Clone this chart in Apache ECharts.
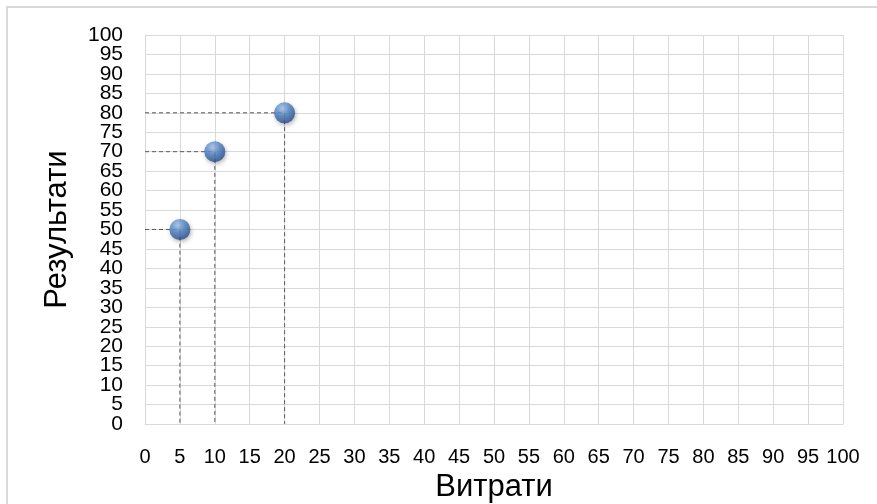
<!DOCTYPE html>
<html><head><meta charset="utf-8">
<script src="https://cdn.jsdelivr.net/npm/echarts@6/dist/echarts.min.js"></script>
<style>html,body{margin:0;padding:0;background:#fff}#c{width:877px;height:504px}</style>
</head><body><div id="c"></div>
<script>
const costs = [5, 10, 20];
const results = [50, 70, 80];
const xName = 'Витрати';
const yName = 'Результати';

const chart = echarts.init(document.getElementById('c'));
const pts = costs.map((x, i) => [x, results[i]]);
const dropSeries = pts.map(p => ({
  type: 'line', data: [[0, p[1]], [p[0], p[1]], [p[0], 0]],
  symbol: 'none', silent: true, z: 2,
  lineStyle: { color: '#595959', width: 1, type: [4, 3] }
}));
const font = 'Liberation Sans';
const yLabel = { fontSize: 21, color: '#000', fontFamily: font, margin: 22, lineHeight: 18 };
chart.setOption({
  animation: false,
  graphic: [{ type: 'rect', shape: { x: 7, y: 7, width: 900, height: 600 },
    style: { fill: 'none', stroke: '#d9d9d9', lineWidth: 2 }, z: -1 }],
  grid: { left: 145, right: 34, top: 35, bottom: 80, outerBoundsMode: 'none', containLabel: false },
  xAxis: {
    type: 'value', min: 0, max: 100, interval: 5,
    name: xName, nameLocation: 'middle', nameGap: 44,
    nameTextStyle: { fontSize: 31, color: '#000', fontFamily: font },
    axisLine: { show: true, lineStyle: { color: '#d9d9d9', width: 1 } },
    axisTick: { show: false },
    axisLabel: { fontSize: 20, color: '#000', fontFamily: font, margin: 23, showMinLabel: true, showMaxLabel: true },
    splitLine: { show: true, lineStyle: { color: '#d9d9d9', width: 1 } }
  },
  yAxis: [{
    type: 'value', min: 0, max: 100, interval: 5, position: 'left',
    name: yName, nameLocation: 'middle', nameGap: 72,
    nameTextStyle: { fontSize: 31, color: '#000', fontFamily: font },
    axisLine: { show: true, lineStyle: { color: '#d9d9d9', width: 1 } },
    axisTick: { show: false },
    axisLabel: Object.assign({ showMinLabel: false, showMaxLabel: false }, yLabel),
    splitLine: { show: true, lineStyle: { color: '#d9d9d9', width: 1 } }
  }, {
    type: 'value', min: 0, max: 100, interval: 100, position: 'left', offset: 0,
    axisLine: { show: false }, axisTick: { show: false }, splitLine: { show: false },
    axisLabel: Object.assign({ showMinLabel: true, showMaxLabel: true }, yLabel)
  }],
  series: dropSeries.concat([{
    type: 'scatter', data: pts, symbolSize: 21, z: 5,
    itemStyle: {
      color: { type: 'radial', x: 0.4, y: 0.3, r: 0.75,
        colorStops: [{ offset: 0, color: '#a9c7ee' }, { offset: 0.45, color: '#4f83c6' }, { offset: 1, color: '#1f4680' }] },
      shadowColor: 'rgba(0,0,0,0.35)', shadowBlur: 4, shadowOffsetX: 1, shadowOffsetY: 2
    }
  }])
});
</script></body></html>
